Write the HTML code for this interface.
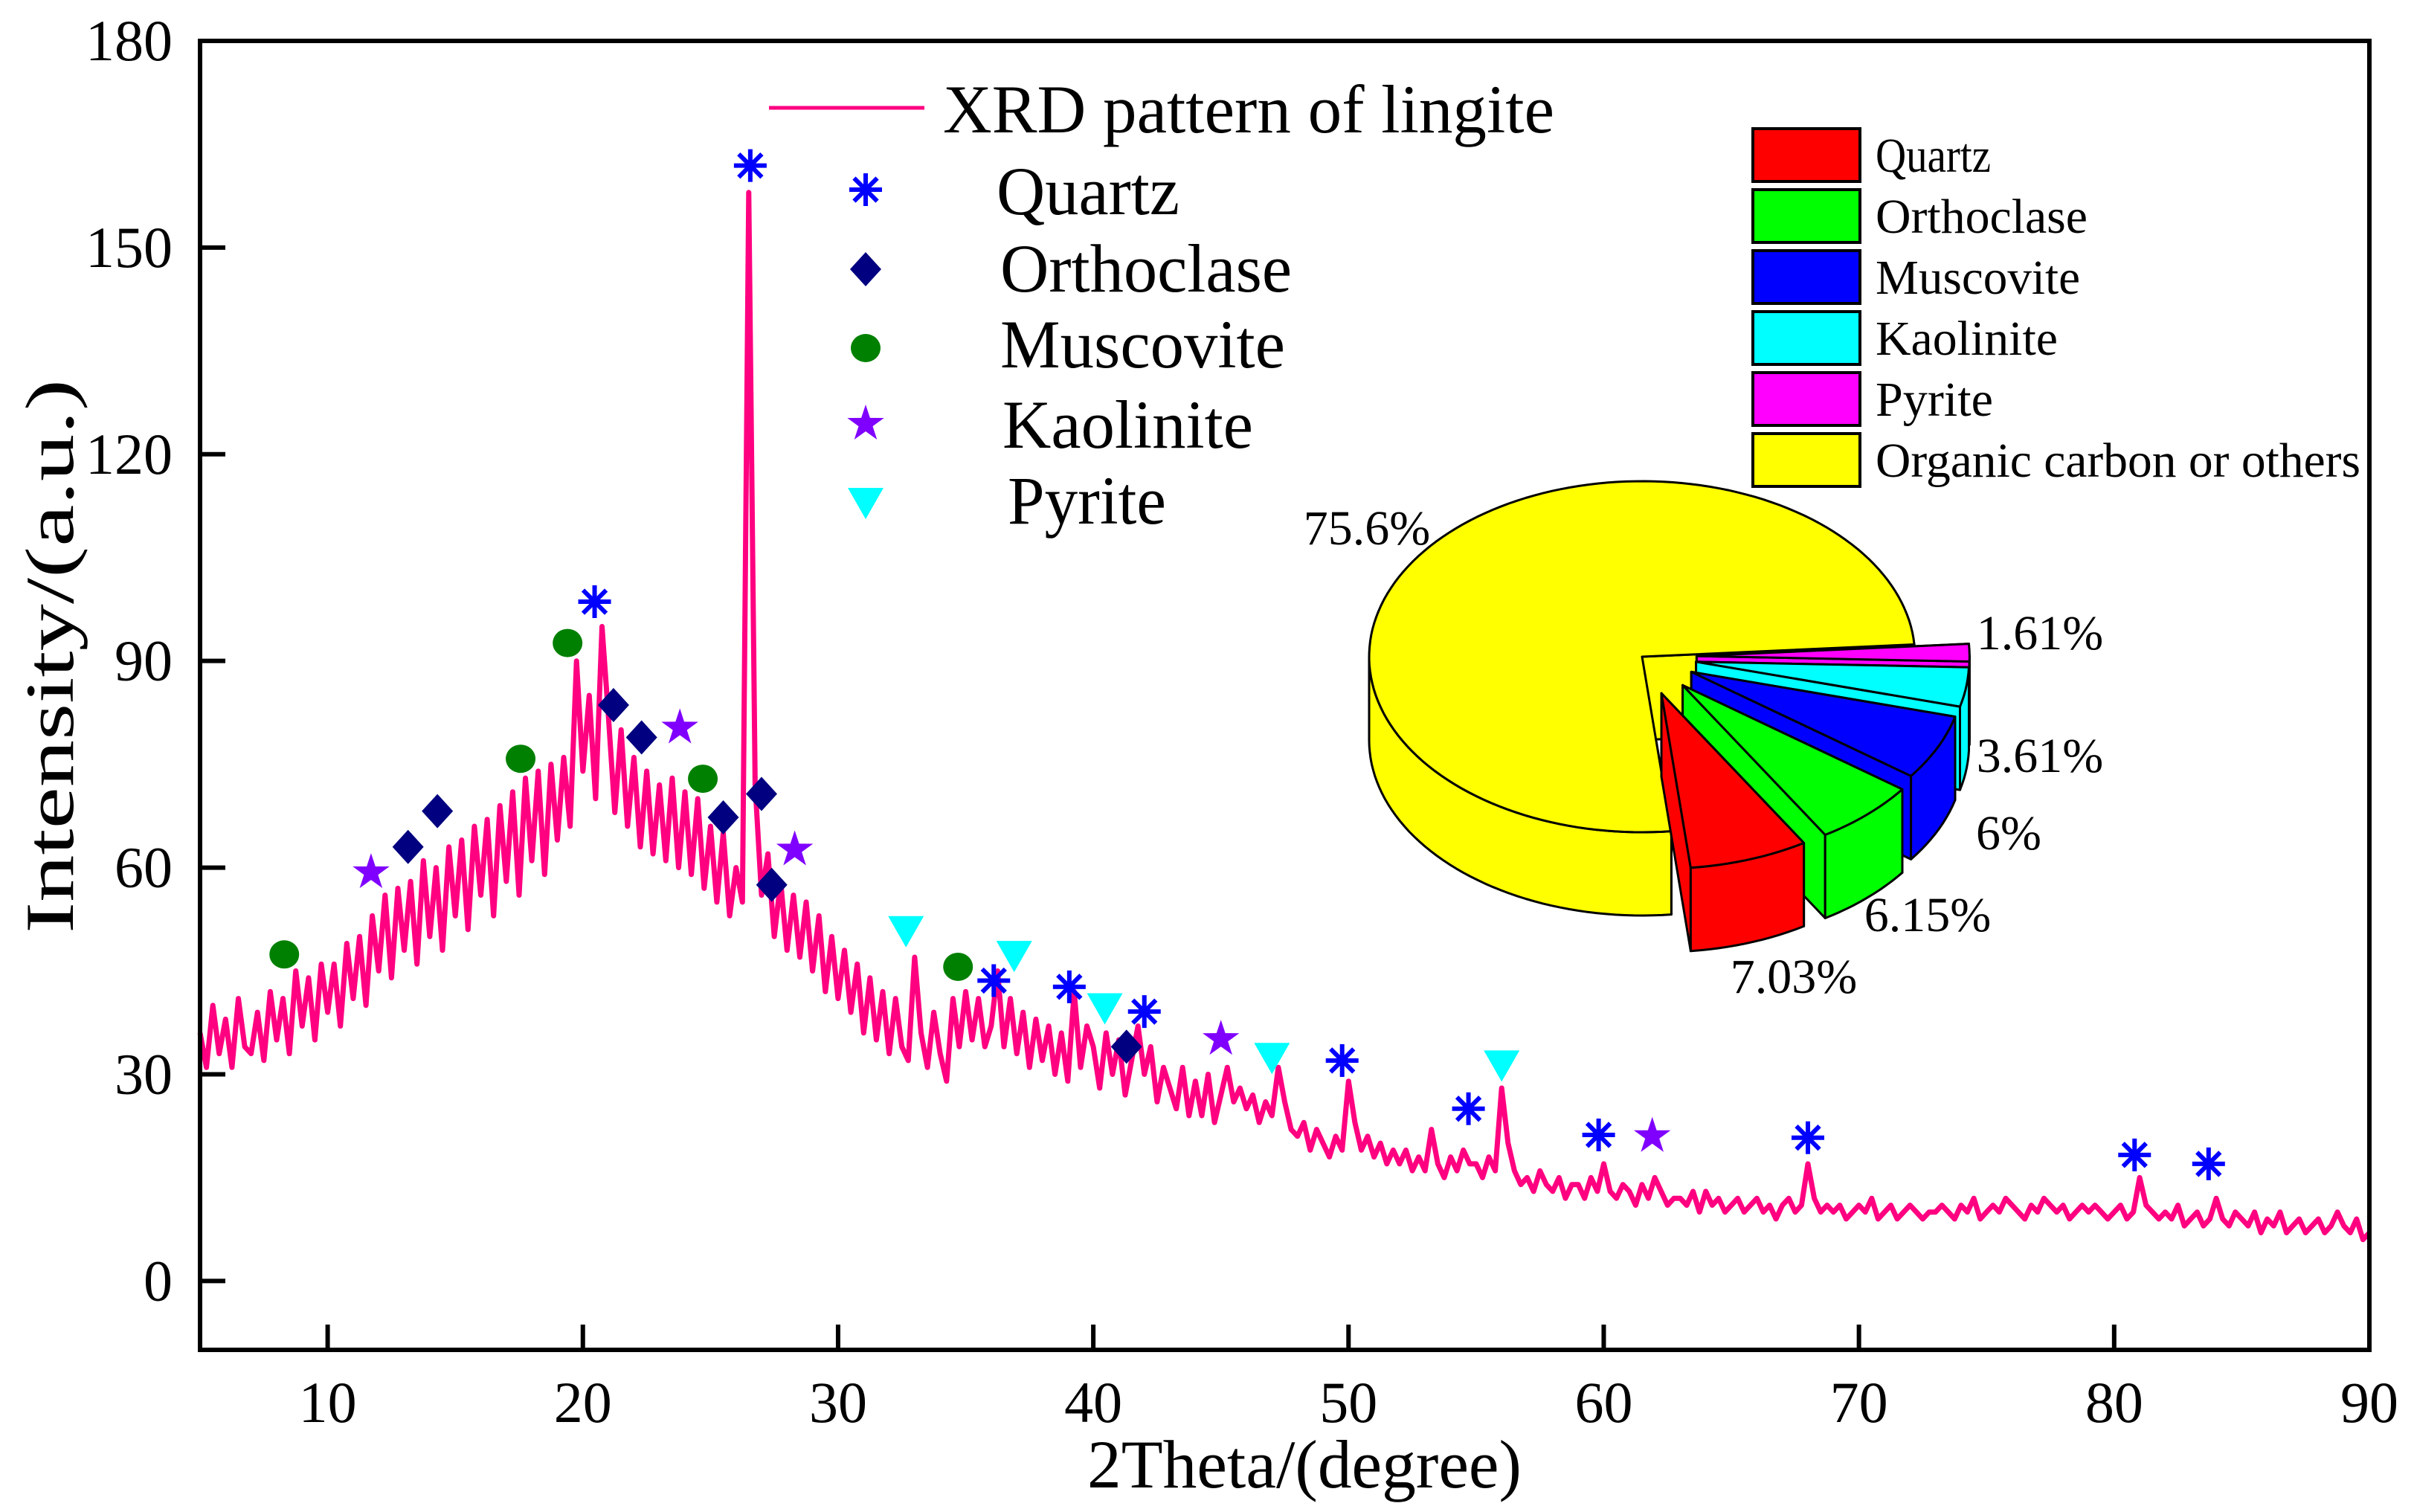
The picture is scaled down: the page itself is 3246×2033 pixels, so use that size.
<!DOCTYPE html>
<html><head><meta charset="utf-8"><style>
html,body{margin:0;padding:0;background:#fff;}
svg{display:block;}
text{font-family:"Liberation Serif","Times New Roman",serif;fill:#000;}
</style></head><body>
<svg id="chart" width="3246" height="2033" viewBox="0 0 3246 2033" xmlns="http://www.w3.org/2000/svg">
<g id="plot"></g>
<g id="markers"></g>
<g id="pie"></g>
<g id="axes"></g>
<g id="legend"></g>
<g id="pielegend"></g>
</svg>
<script>
// ---- XRD data ----
const xStart = 5;
const xStep = 0.25;
const intensity = [
36,31,40,33, 38,31,41,34, 33,39,32,42, 35,41,33,45, 37,44,35,46,
39,46,37,49, 41,50,40,53, 45,56,44,57, 48,58,46,61, 50,60,48,63,
53,64,51,66, 56,67,53,69, 58,71,56,73, 61,74,59,75, 64,76,66,90,
74,85,70,95, 82,68,80,66, 76,63,74,62, 72,61,73,60, 71,59,70,57,
66,55,65,53, 60,55,158,72, 56,62,50,58, 48,56,47,55, 45,53,42,50,
41,48,39,46, 36,44,35,42, 33,41,34,32, 47,36,31,39, 33,29,41,34,
42,35,41,34, 37,45,34,41, 33,39,31,38, 32,37,30,36, 29,42,31,37,
34,28,36,30, 35,27,32,37, 30,34,26,31, 28,25,31,24, 29,24,30,23,
27,31,26,28, 25,27,23,26, 24,31,26,22, 21,23,19,22, 20,18,21,19,
29,23,19,21, 18,20,17,19, 17,19,16,18, 16,22,17,15, 18,16,19,17,
17,15,18,16, 28,20,16,14, 15,13,16,14, 13,15,12,14, 14,12,15,13,
17,13,12,14, 13,11,14,12, 15,13,11,12, 12,11,13,10, 13,11,12,10,
11,12,10,11, 12,10,11,9, 11,12,10,11, 17,12,10,11, 10,11,9,10,
11,10,12,9, 10,11,9,10, 11,10,9,10, 10,11,10,9, 11,10,12,9,
10,11,10,12, 11,10,9,11, 10,12,11,10, 11,9,10,11, 10,11,10,9,
10,11,9,10, 15,11,10,9, 10,9,11,8, 9,10,8,9, 12,9,8,10,
9,8,10,7, 9,8,10,7, 8,9,7,8, 9,7,8,10, 8,7,9,6, 7];
const quartzX = [26.56,20.46,36.1,39.06,42.0,49.75,54.7,59.8,68.0,80.8,83.7];
const quartzY = [161.9,98.6,43.6,42.7,39.1,32,25,21.2,20.8,18.3,17];
const orthoX = [13.15,14.3,21.2,22.3,25.5,27.0,27.4,41.3];
const orthoY = [63,68.2,83.6,78.9,67.3,70.7,57.5,34];
const muscX = [8.3,17.56,19.4,24.7,34.7];
const muscY = [47.4,75.8,92.6,72.9,45.6];
const kaolX = [11.7,23.8,28.3,45.0,61.9];
const kaolY = [59.3,80.3,62.6,35.1,21];
const pyrX = [32.66,36.9,40.45,47.0,56.0];
const pyrY = [50.8,47.2,39.6,32.4,31.3];
const xTicks = [10,20,30,40,50,60,70,80,90];
const yTicks = [0,30,60,90,120,150,180];
// ---- pie data ----
const pieLabels = ["Quartz","Orthoclase","Muscovite","Kaolinite","Pyrite","Organic carbon or others"];
const pieValues = [7.03,6.15,6,3.61,1.61,75.6];
const pieText = ["7.03%","6.15%","6%","3.61%","1.61%","75.6%"];
const pieColors = ["#ff0000","#00ff00","#0000ff","#00ffff","#ff00ff","#ffff00"];

const NS="http://www.w3.org/2000/svg";
const L=269,R=3186,T=55,B=1815,XMIN=5,XMAX=90,YMIN=-10,YMAX=180;
function sx(v){return L+(v-XMIN)/(XMAX-XMIN)*(R-L);}
function sy(v){return B-(v-YMIN)/(YMAX-YMIN)*(B-T);}
function mk(tag,attrs,parent){const e=document.createElementNS(NS,tag);for(const k in attrs)e.setAttribute(k,attrs[k]);parent.appendChild(e);return e;}

const plot=document.getElementById('plot');
let d='';
intensity.forEach((v,i)=>{d+=(i?'L':'M')+sx(xStart+i*xStep).toFixed(1)+','+sy(v).toFixed(1);});
const line=mk('path',{d:d,fill:'none',stroke:'#ff0080','stroke-width':7,'stroke-linejoin':'round'},plot);



// markers
function asterisk(g,cx,cy,c){let p='';for(let k=0;k<4;k++){const a=k*Math.PI/4+Math.PI/2;const dx=Math.cos(a)*22,dy=Math.sin(a)*22;p+=`M${cx-dx},${cy-dy}L${cx+dx},${cy+dy}`;}return mk('path',{d:p,stroke:c,'stroke-width':6,fill:'none'},g);}
function diamond(g,cx,cy,c){return mk('path',{d:`M${cx},${cy-23}L${cx+21},${cy}L${cx},${cy+23}L${cx-21},${cy}Z`,fill:c},g);}
function circle(g,cx,cy,c){return mk('ellipse',{cx:cx,cy:cy,rx:20,ry:19,fill:c},g);}
function star(g,cx,cy,c){let p='';for(let k=0;k<10;k++){const r=k%2?10:26;const a=-Math.PI/2+k*Math.PI/5;p+=(k?'L':'M')+(cx+r*Math.cos(a)).toFixed(1)+','+(cy+r*Math.sin(a)).toFixed(1);}return mk('path',{d:p+'Z',fill:c},g);}
function tri(g,cx,cy,c){return mk('path',{d:`M${cx-24},${cy-20}L${cx+24},${cy-20}L${cx},${cy+22}Z`,fill:c},g);}
const mg=document.getElementById('markers');
const sets=[[quartzX,quartzY,asterisk,'#0000ff','quartz-marker'],[orthoX,orthoY,diamond,'#000080','orthoclase-marker'],[muscX,muscY,circle,'#008000','muscovite-marker'],[kaolX,kaolY,star,'#8000ff','kaolinite-marker'],[pyrX,pyrY,tri,'#00ffff','pyrite-marker']];
sets.forEach(s=>{s[0].forEach((x,i)=>{const e=s[2](mg,sx(x),sy(s[1][i]),s[3]);

});});

// axes
const ax=document.getElementById('axes');
const frame=mk('rect',{x:L,y:T,width:R-L,height:B-T,fill:'none',stroke:'#000','stroke-width':6},ax);


xTicks.forEach(v=>{mk('line',{x1:sx(v),x2:sx(v),y1:B,y2:B-34,stroke:'#000','stroke-width':6},ax);
const t=mk('text',{x:sx(v),y:1912,'text-anchor':'middle','font-size':78},ax);t.textContent=v;

});
yTicks.forEach(v=>{mk('line',{x1:L,x2:L+34,y1:sy(v),y2:sy(v),stroke:'#000','stroke-width':6},ax);
const t=mk('text',{x:232,y:sy(v)+26,'text-anchor':'end','font-size':78},ax);t.textContent=v;

});
const xt=mk('text',{x:1462,y:2000,'font-size':92,textLength:584,lengthAdjust:'spacingAndGlyphs'},ax);xt.textContent='2Theta/(degree)';


const yt=mk('text',{x:0,y:0,'font-size':92,textLength:745,lengthAdjust:'spacingAndGlyphs',transform:'translate(98,1255) rotate(-90)'},ax);yt.textContent='Intensity/(a.u.)';



// legend
const lg=document.getElementById('legend');
mk('line',{x1:1034,x2:1243,y1:145,y2:145,stroke:'#ff0080','stroke-width':5},lg);
const lt=mk('text',{x:1268,y:178,'font-size':92,textLength:822,lengthAdjust:'spacingAndGlyphs'},lg);lt.textContent='XRD pattern of lingite';


const legRows=[['Quartz',1340,288,246,asterisk,'#0000ff',255],['Orthoclase',1345,392,392,diamond,'#000080',362],['Muscovite',1345,494,383,circle,'#008000',468],['Kaolinite',1348,602,337,star,'#8000ff',570],['Pyrite',1355,704,213,tri,'#00ffff',676]];
legRows.forEach(r=>{r[4](lg,1164,r[6],r[5]);const t=mk('text',{x:r[1],y:r[2],'font-size':92,textLength:r[3],lengthAdjust:'spacingAndGlyphs'},lg);t.textContent=r[0];

});

// pie legend
const pl=document.getElementById('pielegend');
const plw=[155,285,275,245,158,652];
pieLabels.forEach((n,i)=>{const y=173+i*82;mk('rect',{x:2357,y:y,width:144,height:71,fill:pieColors[i],stroke:'#000','stroke-width':4},pl);
const t=mk('text',{x:2522,y:y+58,'font-size':66,textLength:plw[i],lengthAdjust:'spacingAndGlyphs'},pl);t.textContent=n;

});

// 3D pie
const pg=document.getElementById('pie');
const CX=2208,CY=883,RX=367,RY=236,DEP=112;
const order=[4,3,2,1,0];
let ang=-4;
const slices={};
order.forEach(i=>{const a1=ang,a2=ang+pieValues[i]*3.6;slices[i]=[a1,a2];ang=a2;});
slices[5]=[ang,356];
function P(ox,oy,t,dz){const r=t*Math.PI/180;return [CX+ox+RX*Math.cos(r),CY+oy+RY*Math.sin(r)+dz];}
function arcPts(ox,oy,a,b,dz){const pts=[];const n=Math.max(2,Math.ceil(Math.abs(b-a)/2));for(let k=0;k<=n;k++)pts.push(P(ox,oy,a+(b-a)*k/n,dz));return pts;}
function poly(pts,fill,name){const e=mk('path',{d:'M'+pts.map(p=>p[0].toFixed(1)+','+p[1].toFixed(1)).join('L')+'Z',fill:fill,stroke:'#000','stroke-width':3,'stroke-linejoin':'round'},pg);

}
function drawSlice(i,explode){const [a1,a2]=slices[i];const m=(a1+a2)/2*Math.PI/180;
const k=explode?(i<=1?0.22:0.2):0;
const ox=k*RX*Math.cos(m), oy=k*RY*Math.sin(m);
const c0=[CX+ox,CY+oy],c1=[CX+ox,CY+oy+DEP];const col=pieColors[i];
[a1,a2].forEach(a=>{const t0=P(ox,oy,a,0),t1=P(ox,oy,a,DEP);poly([c0,t0,t1,c1],col,'pie-slice-side');});
const w1=Math.max(a1,0),w2=Math.min(a2,180);
if(w2>w1){const top=arcPts(ox,oy,w1,w2,0),bot=arcPts(ox,oy,w2,w1,DEP);poly(top.concat(bot),col,'pie-slice-wall');}
poly([c0].concat(arcPts(ox,oy,a1,a2,0)),col,'pie-slice-top');}
drawSlice(5,false);
order.forEach(i=>drawSlice(i,true));
const pctPos=[[2412,1335],[2592,1252],[2701,1142],[2743,1038],[2743,873],[1838,732]];
pieText.forEach((s,i)=>{const t=mk('text',{x:pctPos[i][0],y:pctPos[i][1],'text-anchor':'middle','font-size':66},pg);t.textContent=s;

});
</script>
</body></html>
